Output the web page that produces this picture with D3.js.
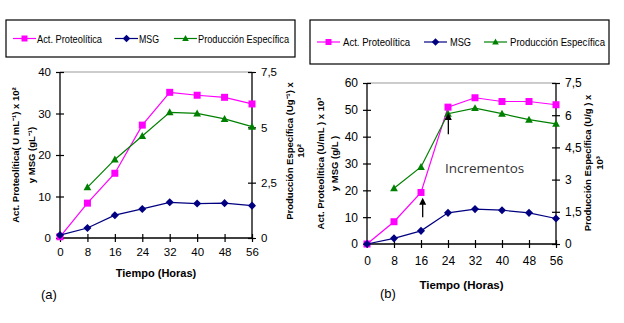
<!DOCTYPE html>
<html><head><meta charset="utf-8">
<script src="https://cdn.jsdelivr.net/npm/d3@7"></script>
<style>
html,body{margin:0;padding:0;background:#fff;}
svg{display:block;font-family:"Liberation Sans",Arial,sans-serif;}
</style></head>
<body>
<svg id="c" width="624" height="323"></svg>
<script>
// ---- data ----
const hours = [0, 8, 16, 24, 32, 40, 48, 56];
const actA  = [0.3, 8.4, 15.6, 27.2, 35.1, 34.4, 33.9, 32.3];
const msgA  = [0.7, 2.4, 5.5, 7.0, 8.6, 8.3, 8.4, 7.8];
const prodA = [null, 2.29, 3.55, 4.61, 5.68, 5.63, 5.38, 5.03];
const actB  = [0, 8.3, 19.2, 51.0, 54.5, 53.1, 53.1, 51.9];
const msgB  = [0, 2.1, 4.9, 11.6, 13.0, 12.6, 11.6, 9.5];
const prodB = [null, 2.60, 3.59, 6.07, 6.33, 6.07, 5.79, 5.60];
const leftTicksA  = [0, 10, 20, 30, 40];
const rightTicksA = [0, 2.5, 5, 7.5];
const leftTicksB  = [0, 10, 20, 30, 40, 50, 60];
const rightTicksB = [0, 1.5, 3, 4.5, 6, 7.5];
const legendNames = ["Act. Proteolítica", "MSG", "Producción Específica"];
const colors = {act: "#ff00ff", msg: "#000080", prod: "#008000"};
const fmt = v => String(v).replace(".", ",");

const svg = d3.select("#c");
svg.append("rect").attr("width", 624).attr("height", 323).attr("fill", "#fff");

function marker(g, type, x, y, s) {
  if (type === "act") {
    g.append("rect").attr("x", x - s/2).attr("y", y - s/2).attr("width", s).attr("height", s).attr("fill", colors.act);
  } else if (type === "msg") {
    const d = s * 0.62;
    g.append("path").attr("d", `M${x},${y-d}L${x+d},${y}L${x},${y+d}L${x-d},${y}Z`).attr("fill", colors.msg);
  } else {
    const h = s * 0.95;
    g.append("path").attr("d", `M${x},${y-h*0.6}L${x+s*0.55},${y+h*0.45}L${x-s*0.55},${y+h*0.45}Z`).attr("fill", colors.prod);
  }
}

function panel(cfg) {
  const g = svg.append("g");
  // legend
  g.append("rect").attr("x", cfg.leg.x).attr("y", cfg.leg.y).attr("width", cfg.leg.w).attr("height", cfg.leg.h)
    .attr("fill", "#fff").attr("stroke", "#000").attr("stroke-width", 1.2);
  const keys = ["act", "msg", "prod"];
  keys.forEach((k, i) => {
    const lx = cfg.leg.items[i];
    const ly = cfg.leg.y + cfg.leg.h / 2;
    g.append("line").attr("x1", lx).attr("x2", lx + 23).attr("y1", ly).attr("y2", ly).attr("stroke", colors[k]).attr("stroke-width", 1.2);
    marker(g, k, lx + 11.5, ly, 6);
    g.append("text").attr("x", lx + cfg.leg.gap).attr("y", ly + 4).attr("font-size", cfg.legFont).attr("fill", "#000")
      .attr("textLength", cfg.legLen[i]).attr("lengthAdjust", "spacingAndGlyphs")
      .text(legendNames[i]);
  });

  const x = d3.scaleLinear().domain([0, 56]).range([cfg.x0, cfg.x1]);
  const yl = d3.scaleLinear().domain([0, cfg.leftMax]).range([cfg.y0, cfg.y1]);
  const yr = d3.scaleLinear().domain([0, 7.5]).range([cfg.y0, cfg.y1]);

  // top border
  g.append("line").attr("x1", cfg.x0).attr("x2", cfg.x1).attr("y1", cfg.y1).attr("y2", cfg.y1).attr("stroke", "#999").attr("stroke-width", 1);

  // axes with crossing ticks
  const axL = g.append("g").attr("transform", `translate(${cfg.x0},0)`)
    .call(d3.axisLeft(yl).tickValues(cfg.leftTicks).tickSize(4).tickPadding(5).tickFormat(fmt));
  const axR = g.append("g").attr("transform", `translate(${cfg.x1},0)`)
    .call(d3.axisRight(yr).tickValues(cfg.rightTicks).tickSize(4).tickPadding(5).tickFormat(fmt));
  const axB = g.append("g").attr("transform", `translate(0,${cfg.y0})`)
    .call(d3.axisBottom(x).tickValues(hours).tickSize(4).tickPadding(cfg.xPad).tickFormat(d => d));
  [axL, axR, axB].forEach(a => {
    a.select(".domain").attr("stroke", "#000").attr("stroke-width", 1.3);
    a.selectAll(".tick line").attr("stroke", "#000").attr("stroke-width", 1.2);
    a.selectAll("text").attr("font-size", cfg.tickFont).attr("fill", "#000").attr("font-family", "Liberation Sans, Arial, sans-serif");
  });
  axL.selectAll(".tick line").attr("x1", 4);
  axR.selectAll(".tick line").attr("x1", -4);
  axB.selectAll(".tick line").attr("y1", -4);
  axL.select(".domain").attr("d", `M0,${cfg.y0}V${cfg.y1}`);
  axR.select(".domain").attr("d", `M0,${cfg.y0}V${cfg.y1}`);
  axB.select(".domain").attr("d", `M${cfg.x0},0H${cfg.x1}`);

  // series
  const series = [
    {k: "act", vals: cfg.act, y: yl},
    {k: "msg", vals: cfg.msg, y: yl},
    {k: "prod", vals: cfg.prod, y: yr}
  ];
  [series[0], series[2], series[1]].forEach(s => {
    const pts = hours.map((h, i) => [h, s.vals[i]]).filter(p => p[1] !== null);
    const line = d3.line().x(p => x(p[0])).y(p => s.y(p[1]));
    g.append("path").attr("d", line(pts)).attr("fill", "none").attr("stroke", colors[s.k]).attr("stroke-width", 1.2);
    pts.forEach(p => marker(g, s.k, x(p[0]), s.y(p[1]), s.k === "msg" ? 6.5 : 7));
  });

  // axis titles
  g.append("text").attr("x", (cfg.x0 + cfg.x1) / 2).attr("y", cfg.xTitleY).attr("text-anchor", "middle")
    .attr("font-size", cfg.titleFont).attr("font-weight", "bold").text("Tiempo (Horas)");
  g.append("text").attr("x", cfg.tagX).attr("y", cfg.tagY).attr("font-size", 13).text(cfg.tag);

  const ylc = (cfg.y0 + cfg.y1) / 2;
  cfg.leftTitle.forEach((t, i) => {
    g.append("text").attr("transform", `translate(${cfg.leftTitleX[i]},${ylc}) rotate(-90)`)
      .attr("text-anchor", "middle").attr("font-size", cfg.ytFont).attr("font-weight", "bold").text(t);
  });
  cfg.rightTitle.forEach((t, i) => {
    g.append("text").attr("transform", `translate(${cfg.rightTitleX[i]},${cfg.rightTitleY}) rotate(-90)`)
      .attr("text-anchor", "middle").attr("font-size", cfg.ytFont).attr("font-weight", "bold").text(t);
  });
  return {g, x, yl, yr};
}

panel({
  leg: {x: 6, y: 20, w: 289, h: 37, items: [13, 115, 174], gap: 24},
  legFont: 10.5, legLen: [65, 20, 91],
  x0: 60, x1: 252, y0: 238, y1: 72, leftMax: 40,
  leftTicks: leftTicksA, rightTicks: rightTicksA,
  act: actA, msg: msgA, prod: prodA,
  tickFont: 11.5, xPad: 6, titleFont: 11,
  xTitleY: 277, tag: "(a)", tagX: 41, tagY: 299,
  ytFont: 9.5,
  leftTitle: ["Act. Proteolítica( U mL⁻¹) x 10²", "y MSG (gL⁻¹)"], leftTitleX: [19, 35],
  rightTitle: ["Producción Específica (Ug⁻¹) x", "10²"], rightTitleX: [293, 304], rightTitleY: 151
});

const pb = panel({
  leg: {x: 310, y: 20, w: 299, h: 44, items: [317, 424, 484], gap: 26},
  legFont: 10.5, legLen: [67, 21, 95],
  x0: 367, x1: 556, y0: 244, y1: 83, leftMax: 60,
  leftTicks: leftTicksB, rightTicks: rightTicksB,
  act: actB, msg: msgB, prod: prodB,
  tickFont: 12, xPad: 8, titleFont: 11.5,
  xTitleY: 289, tag: "(b)", tagX: 380, tagY: 298,
  ytFont: 9.5,
  leftTitle: ["Act. Proteolítica (U/mL ) x 10³", "y MSG (g/L )"], leftTitleX: [324, 338],
  rightTitle: ["Producción Específica (U/g ) x", "10³"], rightTitleX: [591, 603], rightTitleY: 163
});

// annotations on panel (b)
const arrows = [
  {h: 16.5, from: 10.0, to: 17.2},
  {h: 24.1, from: 40.9, to: 48.8}
];
arrows.forEach(a => {
  const ax = pb.x(a.h), yf = pb.yl(a.from), yt = pb.yl(a.to);
  pb.g.append("line").attr("x1", ax).attr("x2", ax).attr("y1", yf).attr("y2", yt + 5).attr("stroke", "#000").attr("stroke-width", 1.3);
  pb.g.append("path").attr("d", `M${ax},${yt}L${ax+3.5},${yt+7}L${ax-3.5},${yt+7}Z`).attr("fill", "#000");
});
pb.g.append("text").attr("x", pb.x(23.1)).attr("y", pb.yl(26.4)).attr("font-size", 13.5)
  .attr("font-family", "Open Sans, sans-serif").attr("fill", "#333").text("Incrementos");
</script>
</body></html>
